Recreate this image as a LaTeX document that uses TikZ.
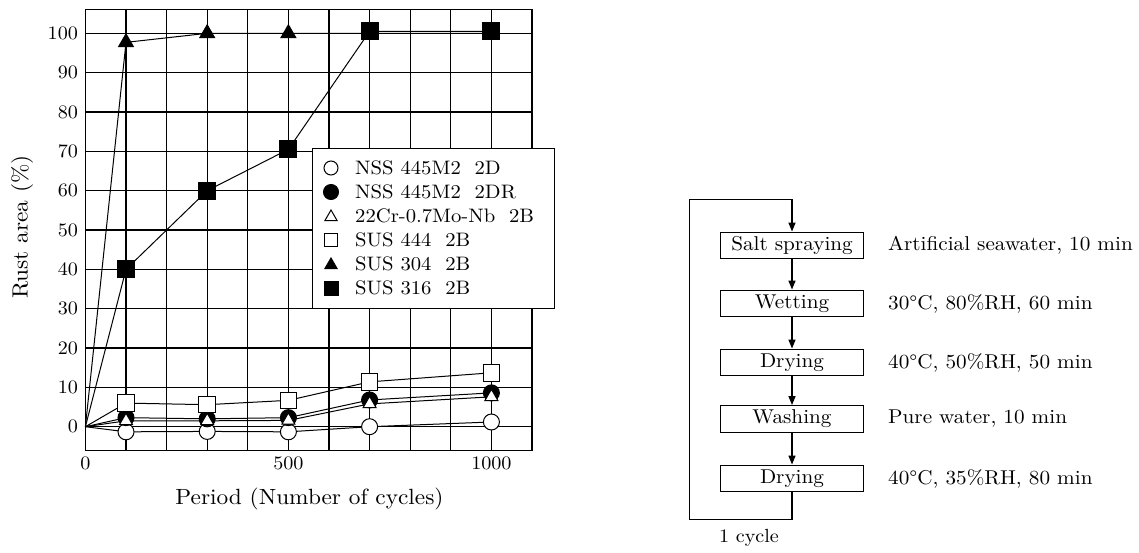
\documentclass[tikz,border=0pt]{standalone}
\usepackage{fontspec}
\setmainfont{lmroman10-regular.otf}[FakeStretch=1.06]
\usetikzlibrary{arrows.meta,plotmarks}
\begin{document}
\begin{tikzpicture}[x=1pt,y=-1pt,
  tick/.style={font=\fontsize{19}{22}\selectfont, inner sep=0pt},
  axlabel/.style={font=\fontsize{22}{26}\selectfont, inner sep=0pt},
  legtext/.style={font=\fontsize{19.5}{23}\selectfont, anchor=west, inner sep=0pt},
  stepbox/.style={draw, line width=1.4pt, minimum width=143pt, minimum height=26.5pt, inner sep=0pt, font=\fontsize{20}{23}\selectfont},
  desc/.style={anchor=west, inner sep=0pt, font=\fontsize{20}{23}\selectfont},
  arr/.style={line width=1.4pt, -{Triangle[length=9pt,width=7pt]}},
  gridline/.style={line width=1.3pt},
  dataline/.style={line width=1pt},
  markline/.style={line width=1pt},
]
\fill[white] (0,0) rectangle (1139,552);
\useasboundingbox (0,0) rectangle (1139,552);

% ---------- plot ----------
\begin{scope}[shift={(85.4,426.7)}, x=0.406pt, y=3.934pt]
  \foreach \c in {100,200,...,1000} \draw[gridline] (\c,-6) -- (\c,106);
  \foreach \v in {0,10,...,100} \draw[gridline] (0,\v) -- (1100,\v);
  \draw[gridline] (0,-6) rectangle (1100,106);
  \foreach \v in {0,10,...,100} \node[tick, anchor=east] (yt\v) at (-18,\v) {\v};
  \node[tick] (xt0) at (0,-9.2) {0};
  \node[tick] (xt500) at (500,-9.2) {500};
  \node[tick] (xt1000) at (1000,-9.2) {1000};

  % data lines
  \draw[dataline] (0,0) -- (100,-1.3) -- (300,-1.2) -- (500,-1.3) -- (700,0) -- (1000,1.2);
  \draw[dataline] (0,0) -- (100,2.3) -- (300,2) -- (500,2.3) -- (700,6.8) -- (1000,8.6);
  \draw[dataline] (0,0) -- (100,1.5) -- (300,1.5) -- (500,1.6) -- (700,5.8) -- (1000,7.6);
  \draw[dataline] (0,0) -- (100,6) -- (300,5.6) -- (500,6.7) -- (700,11.4) -- (1000,13.7);
  \draw[dataline] (0,0) -- (100,97.7) -- (300,100) -- (500,100) -- (700,100) -- (1000,100);
  \draw[dataline] (0,0) -- (100,40) -- (300,60) -- (500,70.5) -- (700,100.5) -- (1000,100.5);

  % marks
  \draw[markline] plot[only marks, mark=*, mark size=8pt, mark options={fill=white}]
    coordinates {(100,-1.3) (300,-1.2) (500,-1.3) (700,0) (1000,1.2)};
  \draw[markline] plot[only marks, mark=*, mark size=8pt, mark options={fill=black}]
    coordinates {(100,2.3) (300,2) (500,2.3) (700,6.8) (1000,8.6)};
  \draw[markline] plot[only marks, mark=triangle*, mark size=7.5pt, mark options={fill=white}]
    coordinates {(100,1.5) (300,1.5) (500,1.6) (700,5.8) (1000,7.6)};
  \draw[markline] plot[only marks, mark=square*, mark size=8.3pt, mark options={fill=white}]
    coordinates {(100,6) (300,5.6) (500,6.7) (700,11.4) (1000,13.7)};
  \draw[markline] plot[only marks, mark=triangle*, mark size=8.5pt, mark options={fill=black}]
    coordinates {(100,97.7) (300,100) (500,100)};
  \draw[markline] plot[only marks, mark=square*, mark size=8.5pt, mark options={fill=black}]
    coordinates {(100,40) (300,60) (500,70.5) (700,100.5) (1000,100.5)};
\end{scope}

\node[axlabel] (xlabel) at (309.5,499) {Period (Number of cycles)};
\node[axlabel, rotate=90] (ylabel) at (22,227) {Rust area (\%)};

% ---------- legend ----------
\node[draw, fill=white, line width=1.3pt, minimum width=242pt, minimum height=160pt, inner sep=0pt, anchor=north west] (legend) at (312,148) {};
\draw[markline] plot[only marks, mark=*, mark size=7pt, mark options={fill=white}] coordinates {(331,168)};
\draw[markline] plot[only marks, mark=*, mark size=7.5pt, mark options={fill=black}] coordinates {(331,192)};
\draw[markline] plot[only marks, mark=triangle*, mark size=7pt, mark options={fill=white}] coordinates {(331,217)};
\draw[markline] plot[only marks, mark=square*, mark size=6.5pt, mark options={fill=white}] coordinates {(331,240)};
\draw[markline] plot[only marks, mark=triangle*, mark size=7pt, mark options={fill=black}] coordinates {(331,265)};
\draw[markline] plot[only marks, mark=square*, mark size=7pt, mark options={fill=black}] coordinates {(331,288)};
\node[legtext] (l1) at (355,168) {NSS 445M2\ \ 2D};
\node[legtext] (l2) at (355,192) {NSS 445M2\ \ 2DR};
\node[legtext] (l3) at (355,216) {22Cr-0.7Mo-Nb\ \ 2B};
\node[legtext] (l4) at (355,240) {SUS 444\ \ 2B};
\node[legtext] (l5) at (355,264) {SUS 304\ \ 2B};
\node[legtext] (l6) at (355,288) {SUS 316\ \ 2B};

% ---------- flow chart ----------
\node[stepbox] (s1) at (792,245.5) {Salt spraying};
\node[stepbox] (s2) at (792,303.5) {Wetting};
\node[stepbox] (s3) at (792,362.5) {Drying};
\node[stepbox] (s4) at (792,419) {Washing};
\node[stepbox] (s5) at (792,478.5) {Drying};
\draw[arr] (s1) -- (s2);
\draw[arr] (s2) -- (s3);
\draw[arr] (s3) -- (s4);
\draw[arr] (s4) -- (s5);
\coordinate (cb) at (792,519.3);
\coordinate (ct) at (689.5,199.3);
\draw[arr] (s5.south) -- (cb) -| (ct) -| (s1.north);

\node[desc] (d1) at (888,245.5) {Artificial seawater, 10 min};
\node[desc] (d2) at (888,303.5) {30°C, 80\%RH, 60 min};
\node[desc] (d3) at (888,362.5) {40°C, 50\%RH, 50 min};
\node[desc] (d4) at (888,419) {Pure water, 10 min};
\node[desc] (d5) at (888,478.5) {40°C, 35\%RH, 80 min};
\node[font=\fontsize{19}{22}\selectfont, inner sep=0pt] (cyc) at (749,538) {1 cycle};
\end{tikzpicture}
\end{document}
